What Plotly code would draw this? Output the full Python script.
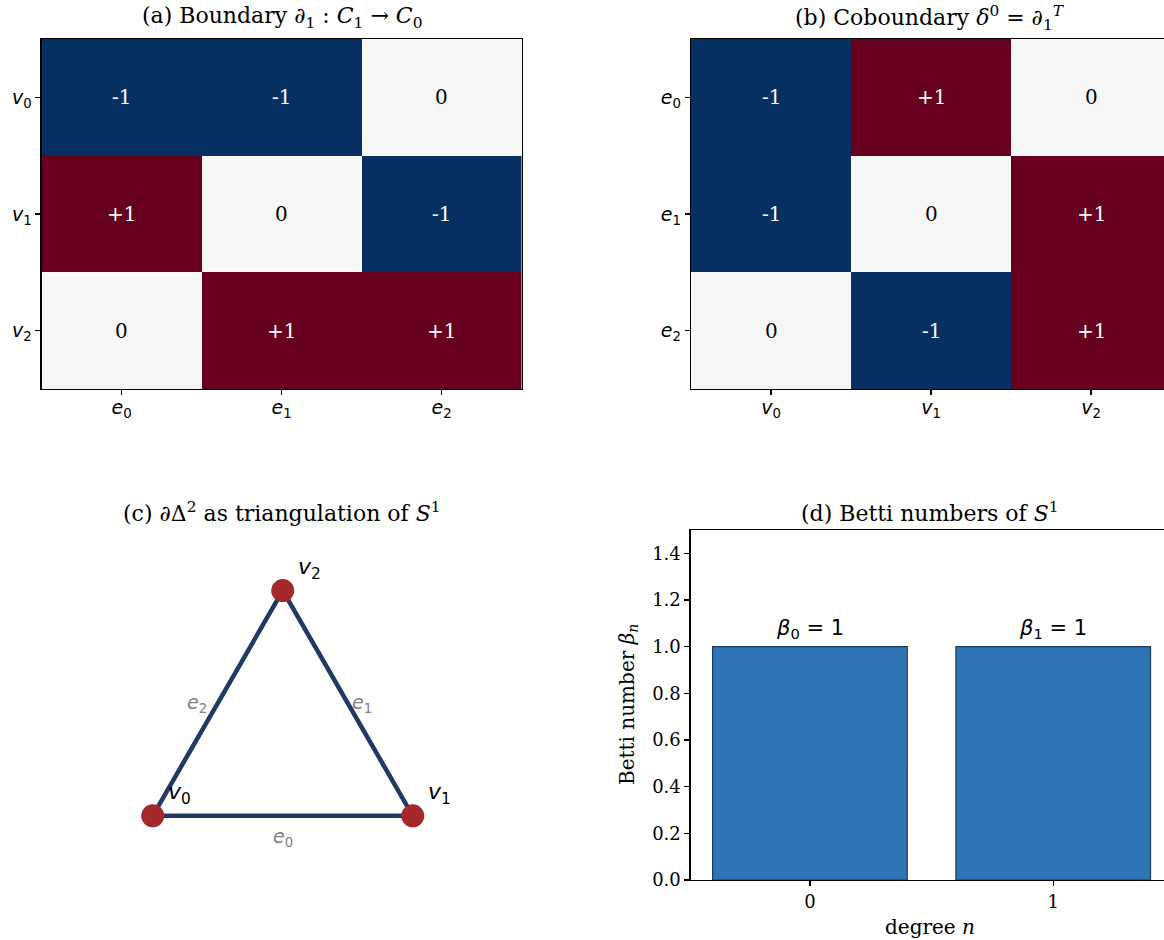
import plotly.graph_objects as go

# ---------------- data ----------------
vertices = ["v0", "v1", "v2"]
edges = ["e0", "e1", "e2"]
vertex_ticks = ["<i>v</i><sub>0</sub>", "<i>v</i><sub>1</sub>", "<i>v</i><sub>2</sub>"]
edge_ticks = ["<i>e</i><sub>0</sub>", "<i>e</i><sub>1</sub>", "<i>e</i><sub>2</sub>"]

# boundary matrix d1 : rows = vertices, cols = edges
boundary = [
    [-1, -1, 0],
    [1, 0, -1],
    [0, 1, 1],
]
# coboundary = transpose : rows = edges, cols = vertices
coboundary = [[boundary[r][c] for r in range(3)] for c in range(3)]

# triangle (vertex coordinates)
vx = [0.0, 1.0, 0.5]
vy = [0.0, 0.0, 0.866]
edge_pairs = [(0, 1), (1, 2), (2, 0)]  # e0, e1, e2

# Betti numbers
degrees = [0, 1]
betti = [1, 1]
betti_labels = ["<i>β</i><sub>0</sub> = 1", "<i>β</i><sub>1</sub> = 1"]
ytick_vals = [0, 0.2, 0.4, 0.6, 0.8, 1.0, 1.2, 1.4]
ytick_text = ["0.0", "0.2", "0.4", "0.6", "0.8", "1.0", "1.2", "1.4"]

# ---------------- layout helpers ----------------
W, H = 1164, 940
def px(x):
    return x / W
def py(y):
    return 1 - y / H

BLUE = "#053061"
RED = "#67001f"
MID = "#f7f7f7"
cscale = [[0, BLUE], [0.5, MID], [1, RED]]
SERIF = "DejaVu Serif"
SANS = "DejaVu Sans"

def fmt(v):
    return "+1" if v > 0 else ("-1" if v < 0 else "0")

fig = go.Figure()
fig.add_trace(go.Heatmap(z=boundary, x=[0, 1, 2], y=[0, 1, 2], colorscale=cscale,
                         zmin=-1, zmax=1, showscale=False, xaxis="x", yaxis="y", hoverinfo="skip"))
fig.add_trace(go.Heatmap(z=coboundary, x=[0, 1, 2], y=[0, 1, 2], colorscale=cscale,
                         zmin=-1, zmax=1, showscale=False, xaxis="x2", yaxis="y2", hoverinfo="skip"))

annotations = []
for mat, xa, ya in [(boundary, "x", "y"), (coboundary, "x2", "y2")]:
    for r in range(3):
        for c in range(3):
            v = mat[r][c]
            annotations.append(dict(x=c, y=r, xref=xa, yref=ya, text=fmt(v), showarrow=False,
                                    xanchor="center", yanchor="middle",
                                    font=dict(family=SERIF, size=20,
                                              color="white" if v != 0 else "black")))

# triangle
tx = [vx[a] for a, b in edge_pairs] + [vx[edge_pairs[-1][1]]]
ty = [vy[a] for a, b in edge_pairs] + [vy[edge_pairs[-1][1]]]
fig.add_trace(go.Scatter(x=tx, y=ty, mode="lines", line=dict(color="#1f3a64", width=4.5),
                         xaxis="x3", yaxis="y3", hoverinfo="skip", showlegend=False))
fig.add_trace(go.Scatter(x=vx, y=vy, mode="markers",
                         marker=dict(color="#a3292b", size=23, line=dict(width=0)),
                         xaxis="x3", yaxis="y3", hoverinfo="skip", showlegend=False))
for i in range(3):
    annotations.append(dict(x=vx[i], y=vy[i], xref="x3", yref="y3", text=vertex_ticks[i],
                            showarrow=False, xanchor="center", yanchor="middle",
                            xshift=27, yshift=22, font=dict(family=SANS, size=22, color="black")))
edge_shift = [(0, -22), (14, 0), (-21, 0)]
for k, (a, b) in enumerate(edge_pairs):
    annotations.append(dict(x=(vx[a] + vx[b]) / 2, y=(vy[a] + vy[b]) / 2, xref="x3", yref="y3",
                            text=edge_ticks[k], showarrow=False, xanchor="center", yanchor="middle",
                            xshift=edge_shift[k][0], yshift=edge_shift[k][1],
                            font=dict(family=SANS, size=19, color="#808080")))

# bars
fig.add_trace(go.Bar(x=degrees, y=betti, width=0.8, marker=dict(color="#2f74b5",
                     line=dict(color="#1f3a5f", width=1.2)),
                     xaxis="x4", yaxis="y4", hoverinfo="skip", showlegend=False))
for d, b, lab in zip(degrees, betti, betti_labels):
    annotations.append(dict(x=d, y=b, xref="x4", yref="y4", text=lab, showarrow=False,
                            xanchor="center", yanchor="bottom", yshift=3,
                            font=dict(family=SANS, size=21, color="black")))

# titles
titles = [
    ("(a) Boundary ∂<sub>1</sub> : <i>C</i><sub>1</sub> → <i>C</i><sub>0</sub>", 282, 18),
    ("(b) Coboundary <i>δ</i><sup>0</sup> = ∂<sub>1</sub><sup><i>T</i></sup>", 930, 18),
    ("(c) ∂Δ<sup>2</sup> as triangulation of <i>S</i><sup>1</sup>", 282, 512),
    ("(d) Betti numbers of <i>S</i><sup>1</sup>", 930, 512),
]
for t, x, y in titles:
    annotations.append(dict(x=px(x), y=py(y), xref="paper", yref="paper", text=t, showarrow=False,
                            xanchor="center", yanchor="middle",
                            font=dict(family=SERIF, size=22, color="black")))
annotations.append(dict(x=px(628), y=py(705), xref="paper", yref="paper",
                        text="Betti number <i>β</i><sub><i>n</i></sub>", textangle=-90, showarrow=False,
                        xanchor="center", yanchor="middle", font=dict(family=SERIF, size=20, color="black")))
annotations.append(dict(x=px(930), y=py(927), xref="paper", yref="paper",
                        text="degree <i>n</i>", showarrow=False,
                        xanchor="center", yanchor="middle", font=dict(family=SERIF, size=20, color="black")))

axis_common = dict(showline=True, linecolor="black", linewidth=1.3, ticks="outside",
                   ticklen=5, tickcolor="black", tickwidth=1.2, showgrid=False, zeroline=False)
math_tick = dict(family=SANS, size=19, color="black")
num_tick = dict(family=SERIF, size=18, color="black")

fig.update_layout(
    width=W, height=H, margin=dict(l=0, r=0, t=0, b=0, pad=0, autoexpand=False),
    paper_bgcolor="white", plot_bgcolor="white", showlegend=False,
    annotations=annotations,
    xaxis=dict(domain=[px(41.7), px(521.7)], range=[-0.5, 2.5], tickvals=[0, 1, 2], ticktext=edge_ticks,
               mirror=True, anchor="y", tickfont=math_tick, ticklabelstandoff=-4, **axis_common),
    yaxis=dict(domain=[py(389), py(39)], range=[2.5, -0.5], tickvals=[0, 1, 2], ticktext=vertex_ticks,
               mirror=True, anchor="x", tickfont=math_tick, **axis_common),
    xaxis2=dict(domain=[px(691), 1.0], range=[-0.5, -0.5 + (W - 691) / 160.0], tickvals=[0, 1, 2],
                ticktext=vertex_ticks, mirror=True, anchor="y2", tickfont=math_tick,
                ticklabelstandoff=-4, **axis_common),
    yaxis2=dict(domain=[py(389), py(39)], range=[2.5, -0.5], tickvals=[0, 1, 2], ticktext=edge_ticks,
                anchor="x2", tickfont=math_tick, **axis_common),
    xaxis3=dict(domain=[px(41.7), px(521.7)], range=[-0.427, 1.419], visible=False, anchor="y3"),
    yaxis3=dict(domain=[py(880), py(530)], range=[-0.247, 1.099], visible=False, anchor="x3"),
    xaxis4=dict(domain=[px(690.7), 1.0], range=[-0.49, -0.49 + (W - 690.7) / 243.3], tickvals=degrees,
                ticktext=[str(d) for d in degrees], mirror=True, anchor="y4", tickfont=num_tick, **axis_common),
    yaxis4=dict(domain=[py(880), py(530)], range=[0, 1.5], tickvals=ytick_vals,
                ticktext=ytick_text, anchor="x4", tickfont=num_tick, **axis_common),
)

fig.write_html(
    "out.html",
    config={"displayModeBar": False, "staticPlot": True},
    post_script=(
        "document.body.style.margin='0';document.body.style.padding='0';"
        "document.documentElement.style.overflow='hidden';document.body.style.overflow='hidden';"
        "var gd=document.getElementById('{plot_id}');"
        "gd.style.position='fixed';gd.style.top='0px';gd.style.left='0px';"
    ),
)
